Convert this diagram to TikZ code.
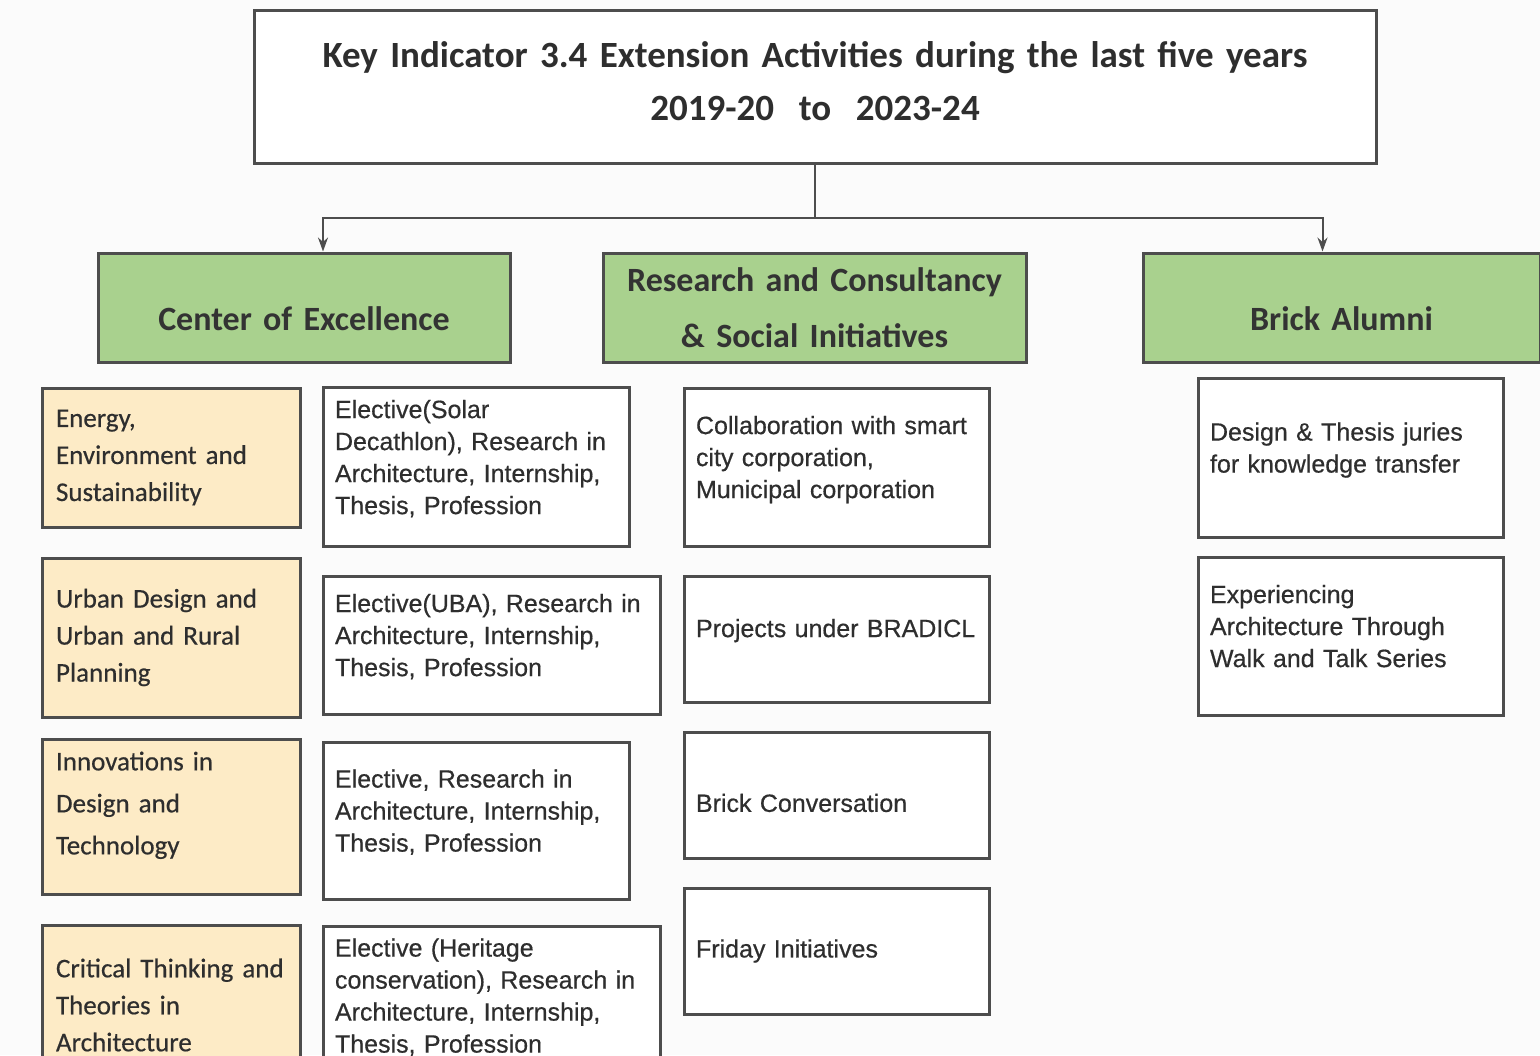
\documentclass[tikz,border=0pt]{standalone}
\usepackage{fontspec}
\setmainfont[FakeBold=0.5]{Liberation Sans}
\newfontfamily\headfont{Carlito}
\newfontfamily\areafont[FakeBold=0.5]{Carlito}
\usetikzlibrary{arrows.meta}
\definecolor{boxgreen}{HTML}{A9D18E}
\definecolor{boxyellow}{HTML}{FDEBC6}
\definecolor{edgegray}{HTML}{4D4D4D}
\definecolor{inkgray}{HTML}{2E2E2E}
\tikzset{
	box/.style={draw=edgegray,line width=1.5pt,inner xsep=6pt,inner ysep=6pt,align=left,fill=white,
		font=\fontsize{12.5}{16}\selectfont,text=inkgray},
	headbox/.style={box,fill=boxgreen,align=center,minimum height=54.5pt,
		font=\headfont\bfseries\fontsize{17}{28}\selectfont,text=black!80},
	areabox/.style={box,fill=boxyellow,inner xsep=7pt,text width=115pt,font=\areafont\fontsize{13.5}{18.5}\selectfont},
	lift/.style={execute at end node={\rule[-#1]{0pt}{#1}}},
	drop/.style={execute at begin node={\rule{0pt}{#1}}},
	link/.style={draw=edgegray,line width=1pt},
}
\begin{document}
\begin{tikzpicture}[x=0.5pt,y=-0.5pt,>={Stealth[length=7pt,width=5pt]}]
			\clip (0,0) rectangle (1540,1055);
			\fill[gray!3] (0,0) rectangle (1540,1055);
			\node[box,align=center,text width=549pt,minimum height=76.5pt,lift=6pt,font=\headfont\bfseries\fontsize{18.5}{26.5}\selectfont] (title) at (815,86.5)
				{Key Indicator 3.4 Extension Activities during the last five years\\2019-20~~to~~2023-24};
			% three heads
			\node[headbox,text width=194pt,drop=23pt] (coe) at (304,307.5) {Center of Excellence};
			\node[headbox,text width=199.5pt] (rc) at (814.5,307.5) {Research and Consultancy\\\& Social Initiatives};
			\node[headbox,text width=186.5pt,drop=23pt] (ba) at (1341.5,307.5) {Brick Alumni};
			\coordinate (split) at (815,218);
			\draw[link] (title.south) -- (split);
			\draw[link,->] (split) -| ([xshift=9.5pt]coe.north);
			\draw[link,->] (split) -| ([xshift=-9.5pt]ba.north);
			% centres of excellence
			\node[areabox,minimum height=69.5pt] (e1) at (171,457.5) {Energy,\\Environment and\\Sustainability};
			\node[areabox,minimum height=79.5pt] (e2) at (171,637.5) {Urban Design and\\Urban and Rural\\Planning};
			\node[areabox,minimum height=74pt,lift=14pt,font=\areafont\fontsize{13.5}{21}\selectfont] (e3) at (171,817) {Innovations in\\Design and\\Technology};
			\node[areabox,minimum height=80pt] (e4) at (171,1005) {Critical Thinking and\\Theories in\\Architecture};
			\node[box,text width=141pt,minimum height=79pt,lift=10pt] (c1) at (476,467) {Elective(Solar\\Decathlon), Research in\\Architecture, Internship,\\Thesis, Profession};
			\node[box,text width=156.5pt,minimum height=69pt,lift=10pt] (c2) at (491.5,645) {Elective(UBA), Research in\\Architecture, Internship,\\Thesis, Profession};
			\node[box,text width=141pt,minimum height=78.5pt,lift=10pt] (c3) at (476,820.5) {Elective, Research in\\Architecture, Internship,\\Thesis, Profession};
			\node[box,text width=156.5pt,minimum height=79.5pt,lift=10pt] (c4) at (491.5,1005.5) {Elective (Heritage\\conservation), Research in\\Architecture, Internship,\\Thesis, Profession};
			% research and consultancy
			\node[box,text width=140.5pt,minimum height=79pt,lift=10pt] (r1) at (836.5,467) {Collaboration with smart\\city corporation,\\Municipal corporation};
			\node[box,text width=140.5pt,minimum height=63pt,lift=11pt] (r2) at (836.5,639) {Projects under BRADICL};
			\node[box,text width=140.5pt,minimum height=63pt,drop=17pt] (r3) at (836.5,795) {Brick Conversation};
			\node[box,text width=140.5pt,minimum height=63pt] (r4) at (836.5,951) {Friday Initiatives};
			% alumni
			\node[box,text width=140.5pt,minimum height=79.5pt,lift=10pt] (a1) at (1350.5,457.5) {Design \& Thesis juries\\for knowledge transfer};
			\node[box,text width=140.5pt,minimum height=79pt,lift=10pt] (a2) at (1350.5,636) {Experiencing\\Architecture Through\\Walk and Talk Series};
\end{tikzpicture}
\end{document}
